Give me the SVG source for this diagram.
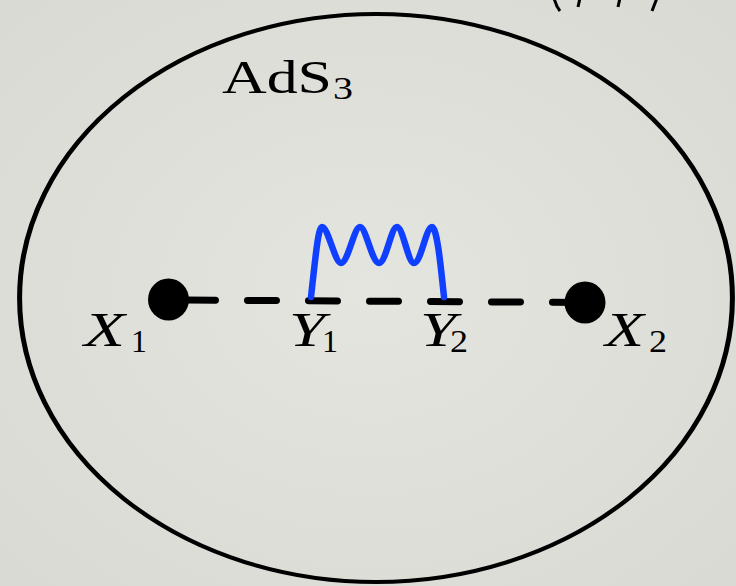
<svg xmlns="http://www.w3.org/2000/svg" width="736" height="586" viewBox="0 0 736 586">
<defs>
<radialGradient id="bg" cx="50%" cy="50%" r="75%">
<stop offset="0" stop-color="#e5e5e0"/>
<stop offset="1" stop-color="#d9d9d3"/>
</radialGradient>
<style>
.lbl{font-family:"Liberation Serif","DejaVu Serif",serif;fill:#000}
.it{font-style:italic;font-size:48px}
.sub{font-size:32px}
.dot{fill:#000}
.dash{stroke:#000;stroke-width:7;stroke-linecap:round;stroke-dasharray:29 32;fill:none}
.wave{stroke:#1040ff;stroke-width:6.5;fill:none;stroke-linecap:round;stroke-linejoin:round}
.frag{stroke:#000;stroke-width:3;fill:none}
</style>
</defs>
<rect width="736" height="586" fill="url(#bg)"/>
<g id="top-fragment">
<path class="frag" d="M554,-2 Q556,6 560,11"/>
<line class="frag" x1="580" y1="-2" x2="578" y2="7"/>
<line class="frag" x1="620" y1="-2" x2="618" y2="7"/>
<path class="frag" d="M657,-2 L652,11"/>
</g>
<g id="ads3">
<circle cx="0" cy="0" r="284" fill="none" stroke="#000" stroke-width="4" transform="translate(376,298) scale(1.255,1)"/>
<text class="lbl" x="222" y="93" font-size="46" textLength="110" lengthAdjust="spacingAndGlyphs">AdS</text>
<text class="lbl sub" x="333" y="99" textLength="20" lengthAdjust="spacingAndGlyphs">3</text>
</g>
<g id="connectors">
<line class="dash" x1="186.5" y1="300" x2="585" y2="302.5"/>
<path class="wave" d="M311,297 C315,262 318,227 322,227 C328,227 335,263 341,263 C348,263 354,227 360,227 C366,227 372,263 379,263 C386,263 391,227 397,227 C403,227 408,263 414,263 C421,263 426,227 432,227 C437,227 441,268 444,297"/>
</g>
<g id="X1">
<ellipse class="dot" cx="168.5" cy="299.5" rx="20.5" ry="21"/>
<text class="lbl it" x="84" y="346" textLength="41" lengthAdjust="spacingAndGlyphs">X</text>
<text class="lbl sub" x="131" y="352" textLength="16" lengthAdjust="spacingAndGlyphs">1</text>
</g>
<g id="Y1">
<text class="lbl it" x="289" y="346" textLength="36" lengthAdjust="spacingAndGlyphs">Y</text>
<text class="lbl sub" x="322" y="352" textLength="16" lengthAdjust="spacingAndGlyphs">1</text>
</g>
<g id="Y2">
<text class="lbl it" x="420" y="346" textLength="36" lengthAdjust="spacingAndGlyphs">Y</text>
<text class="lbl sub" x="450" y="352" textLength="18" lengthAdjust="spacingAndGlyphs">2</text>
</g>
<g id="X2">
<ellipse class="dot" cx="585" cy="302.5" rx="20.5" ry="21"/>
<text class="lbl it" x="605" y="346" textLength="39" lengthAdjust="spacingAndGlyphs">X</text>
<text class="lbl sub" x="649" y="352" textLength="18" lengthAdjust="spacingAndGlyphs">2</text>
</g>
</svg>
